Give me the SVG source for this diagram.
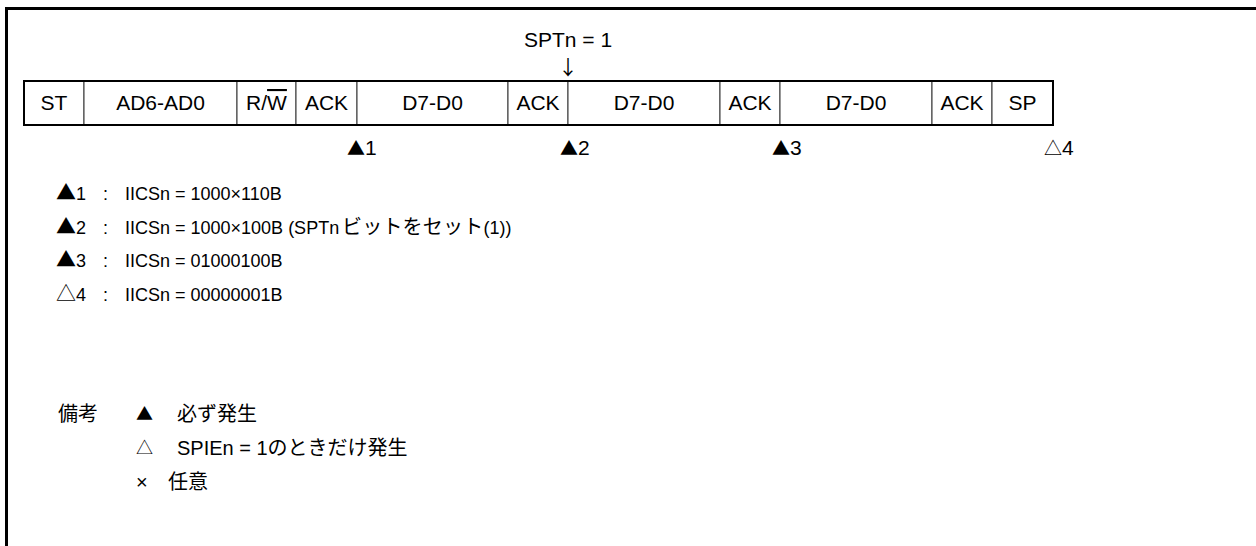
<svg xmlns="http://www.w3.org/2000/svg" width="1256" height="546" viewBox="0 0 1256 546">
<style>
text{font-family:"Liberation Sans","Noto Sans CJK JP",sans-serif;font-size:21px;fill:#000}
.c{text-anchor:middle}
.j{font-family:"Noto Sans CJK JP",sans-serif}
.n{font-size:18px}
.k{font-size:20px}
.m{font-size:18px}
.lg{font-size:20px}
.ls{font-size:17px}
.cell{fill:#fff;stroke:#333;stroke-width:1}
.frame{fill:none;stroke:#000;stroke-width:3}
.outer{fill:none;stroke:#000;stroke-width:2}
</style>
<rect width="1256" height="546" fill="#fff"/>
<path class="frame" d="M6.5,546 V8.5 H1256"/>
<g id="header">
<text class="c" x="568" y="47">SPTn = 1</text>
<text class="c j k" x="568" y="75">↓</text>
</g>
<g id="frame-cells">
<g id="cell-st"><rect class="cell" x="24" y="81" width="60" height="44"/><text class="c" x="54" y="110">ST</text></g>
<g id="cell-addr"><rect class="cell" x="84" y="81" width="153" height="44"/><text class="c" x="160.5" y="110">AD6-AD0</text></g>
<g id="cell-rw"><rect class="cell" x="237" y="81" width="59" height="44"/><text class="c" x="266.5" y="110">R/<tspan style="text-decoration:overline">W</tspan></text></g>
<g id="cell-ack1"><rect class="cell" x="296" y="81" width="61" height="44"/><text class="c" x="326.5" y="110">ACK</text></g>
<g id="cell-data1"><rect class="cell" x="357" y="81" width="151" height="44"/><text class="c" x="432.5" y="110">D7-D0</text></g>
<g id="cell-ack2"><rect class="cell" x="508" y="81" width="60" height="44"/><text class="c" x="538" y="110">ACK</text></g>
<g id="cell-data2"><rect class="cell" x="568" y="81" width="152" height="44"/><text class="c" x="644" y="110">D7-D0</text></g>
<g id="cell-ack3"><rect class="cell" x="720" y="81" width="60" height="44"/><text class="c" x="750" y="110">ACK</text></g>
<g id="cell-data3"><rect class="cell" x="780" y="81" width="152" height="44"/><text class="c" x="856" y="110">D7-D0</text></g>
<g id="cell-ack4"><rect class="cell" x="932" y="81" width="60" height="44"/><text class="c" x="962" y="110">ACK</text></g>
<g id="cell-sp"><rect class="cell" x="992" y="81" width="61" height="44"/><text class="c" x="1022.5" y="110">SP</text></g>
<rect class="outer" x="24" y="81" width="1029" height="44"/>
</g>
<g id="markers">
<text x="347" y="155"><tspan class="j m">▲</tspan>1</text>
<text x="560" y="155"><tspan class="j m">▲</tspan>2</text>
<text x="772" y="155"><tspan class="j m">▲</tspan>3</text>
<text x="1044" y="155"><tspan class="j m">△</tspan>4</text>
</g>
<g id="notes">
<text class="n" x="56" y="200"><tspan class="j k">▲</tspan>1<tspan x="103">:</tspan><tspan x="125">IICSn = 1000×110B</tspan></text>
<text class="n" x="56" y="234"><tspan class="j k">▲</tspan>2<tspan x="103">:</tspan><tspan x="125">IICSn = 1000×100B (SPTn</tspan><tspan class="k" x="342" style="letter-spacing:0.2px">ビットをセット</tspan>(1))</text>
<text class="n" x="56" y="267"><tspan class="j k">▲</tspan>3<tspan x="103">:</tspan><tspan x="125">IICSn = 01000100B</tspan></text>
<text class="n" x="56" y="301"><tspan class="j k">△</tspan>4<tspan x="103">:</tspan><tspan x="125">IICSn = 00000001B</tspan></text>
</g>
<g id="legend">
<text class="lg" x="58" y="421">備考</text>
<text class="j ls" x="136" y="420">▲</text><text class="lg" x="177" y="421">必ず発生</text>
<text class="j ls" x="136" y="454">△</text><text class="lg" x="177" y="455">SPIEn = 1のときだけ発生</text>
<text class="lg" x="136" y="489">×</text><text class="lg" x="168" y="489">任意</text>
</g>
<g id="connectors"></g>
</svg>
